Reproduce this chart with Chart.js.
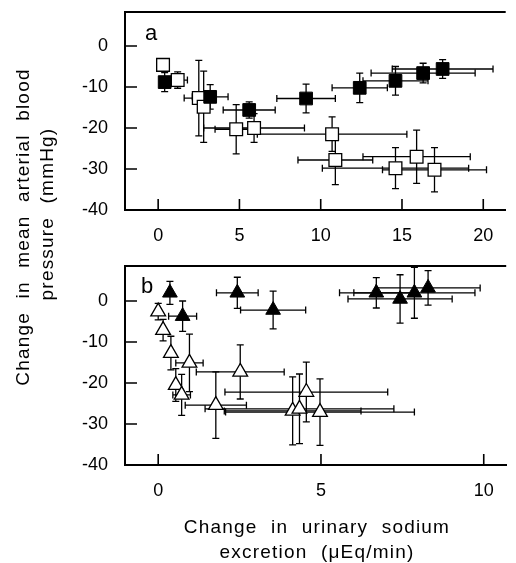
<!DOCTYPE html>
<html>
<head>
    <title>Blood pressure vs sodium excretion</title>
    <style>
        body {
            margin: 0;
            background-color: white;
            font-family: "Liberation Sans", Arial, sans-serif;
            color: #000;
        }
        .wrap {
            position: relative;
            width: 516px;
            height: 563px;
            overflow: hidden;
        }
        canvas {
            position: absolute;
            left: 0;
        }
        .rot {
            position: absolute;
            white-space: nowrap;
            font-size: 19px;
            letter-spacing: 1.2px;
            word-spacing: 7px;
            transform: translate(-50%, -50%) rotate(-90deg);
        }
        .xtitle {
            position: absolute;
            left: 317px;
            top: 539px;
            transform: translate(-50%, -50%);
            white-space: nowrap;
            text-align: center;
            font-size: 19px;
            line-height: 25px;
            letter-spacing: 1.2px;
            word-spacing: 7px;
        }
        .panel {
            position: absolute;
            font-size: 22px;
            line-height: 22px;
        }
    </style>
</head>
<body>
    <div class="wrap">
        <canvas id="chartA" width="516" height="250" style="top:0"></canvas>
        <canvas id="chartB" width="516" height="313" style="top:250px"></canvas>
        <div class="rot" style="left:23px; top:227px">Change in mean arterial blood</div>
        <div class="rot" style="left:47px; top:214px">pressure (mmHg)</div>
        <div class="xtitle">Change in urinary sodium<br>excretion (&mu;Eq/min)</div>
        <div class="panel" style="left:145px; top:22px">a</div>
        <div class="panel" style="left:141px; top:275px">b</div>
    </div>

    <script src="https://cdn.jsdelivr.net/npm/chart.js"></script>
    <script>
    // panel a: filled squares
    const aFilledX = [0.4, 3.2, 5.6, 9.1, 12.4, 14.6, 16.3, 17.5];
    const aFilledY = [-8.8, -12.4, -15.6, -12.8, -10.2, -8.5, -6.6, -5.6];
    const aFilledXErr = [0, 1.1, 1.6, 1.8, 1.7, 2.0, 3.2, 3.1];
    const aFilledYErr = [2.3, 3.0, 2.0, 3.5, 3.6, 3.5, 2.4, 2.3];

    // panel a: open squares
    const aOpenX = [0.3, 1.2, 2.5, 2.8, 4.8, 5.9, 10.7, 10.9, 14.6, 15.9, 17.0];
    const aOpenY = [-4.6, -8.3, -12.7, -14.8, -20.3, -20.0, -21.5, -27.8, -29.8, -27.0, -30.2];
    const aOpenXErr = [0, 0.6, 0.9, 0, 1.3, 3.1, 4.6, 2.3, 4.5, 3.3, 3.2];
    const aOpenYErr = [1.5, 2.0, 9.2, 8.7, 6.0, 3.5, 4.2, 6.0, 5.0, 6.5, 5.4];

    // panel b: filled triangles
    const bFilledX = [0.36, 0.75, 2.43, 3.53, 6.7, 7.43, 7.87, 8.29];
    const bFilledY = [2.0, -3.7, 2.0, -2.2, 2.0, 0.5, 2.0, 3.2];
    const bFilledXErr = [0, 0.43, 0.64, 1.0, 1.13, 1.6, 1.86, 1.6];
    const bFilledYErr = [2.8, 3.7, 3.8, 4.6, 3.7, 5.9, 6.2, 4.2];

    // panel b: open triangles
    const bOpenX = [0.0, 0.15, 0.39, 0.54, 0.72, 0.96, 1.77, 2.52, 4.13, 4.34, 4.55, 4.97];
    const bOpenY = [-2.6, -7.1, -12.7, -20.5, -22.9, -15.1, -25.4, -17.3, -26.8, -26.3, -22.2, -27.1];
    const bOpenXErr = [0, 0, 0, 0, 0.27, 0.42, 0.94, 1.35, 2.1, 2.9, 2.5, 2.9];
    const bOpenYErr = [2.0, 2.6, 4.1, 4.0, 5.0, 7.0, 8.1, 6.6, 8.3, 8.5, 7.3, 8.1];

    const aXTicks = [0, 5, 10, 15, 20];
    const bXTicks = [0, 5, 10];
    const yTicks = [0, -10, -20, -30, -40];

    Chart.defaults.font.family = "'Liberation Sans', Arial, sans-serif";
    Chart.defaults.font.size = 18;
    Chart.defaults.color = '#000';

    function points(xs, ys) {
        return xs.map((x, i) => ({ x: x, y: ys[i] }));
    }

    // error bars under the markers, inward ticks and the top frame line
    const errorBars = {
        id: 'errorBars',
        beforeDatasetsDraw(chart) {
            const ctx = chart.ctx;
            const xs = chart.scales.x, ys = chart.scales.y;
            const cap = 3.5;
            ctx.save();
            ctx.strokeStyle = '#000';
            ctx.lineWidth = 1.3;
            chart.data.datasets.forEach(ds => {
                ds.data.forEach((p, i) => {
                    const px = xs.getPixelForValue(p.x);
                    const py = ys.getPixelForValue(p.y);
                    ctx.beginPath();
                    const xe = ds.xErr[i];
                    if (xe) {
                        const l = xs.getPixelForValue(p.x - xe);
                        const r = xs.getPixelForValue(p.x + xe);
                        ctx.moveTo(l, py); ctx.lineTo(r, py);
                        ctx.moveTo(l, py - cap); ctx.lineTo(l, py + cap);
                        ctx.moveTo(r, py - cap); ctx.lineTo(r, py + cap);
                    }
                    const ye = ds.yErr[i];
                    if (ye) {
                        const t = ys.getPixelForValue(p.y + ye);
                        const b = ys.getPixelForValue(p.y - ye);
                        ctx.moveTo(px, t); ctx.lineTo(px, b);
                        ctx.moveTo(px - cap, t); ctx.lineTo(px + cap, t);
                        ctx.moveTo(px - cap, b); ctx.lineTo(px + cap, b);
                    }
                    ctx.stroke();
                });
            });
            ctx.restore();
        },
        afterDraw(chart) {
            const ctx = chart.ctx;
            const area = chart.chartArea;
            const xs = chart.scales.x, ys = chart.scales.y;
            ctx.save();
            ctx.strokeStyle = '#000';
            ctx.lineWidth = 2;
            ctx.beginPath();
            ctx.moveTo(area.left - 1, area.top);
            ctx.lineTo(area.right, area.top);
            ctx.stroke();
            ctx.lineWidth = 1.6;
            ctx.beginPath();
            xs.ticks.forEach(t => {
                const px = xs.getPixelForValue(t.value);
                ctx.moveTo(px, area.bottom);
                ctx.lineTo(px, area.bottom - 11);
            });
            ys.ticks.forEach(t => {
                const py = ys.getPixelForValue(t.value);
                if (t.value <= -40) return;
                ctx.moveTo(area.left, py);
                ctx.lineTo(area.left + 12, py);
            });
            ctx.stroke();
            ctx.restore();
        }
    };

    function makeChart(id, sets, xMin, xMax, xTicks, yMax, padTop, xHeight) {
        return new Chart(document.getElementById(id), {
            type: 'scatter',
            data: { datasets: sets },
            options: {
                responsive: false,
                animation: false,
                layout: { padding: { top: padTop, right: 0, left: 0, bottom: 0 } },
                plugins: { legend: { display: false }, tooltip: { enabled: false } },
                scales: {
                    x: {
                        type: 'linear',
                        min: xMin,
                        max: xMax,
                        afterBuildTicks: s => { s.ticks = xTicks.map(v => ({ value: v })); },
                        afterFit: s => {
                            s.height = xHeight;
                            s.paddingLeft = 0;
                            s.paddingRight = 0;
                        },
                        grid: { display: false, drawTicks: false },
                        border: { display: true, color: '#000', width: 2 },
                        ticks: { padding: 15, maxRotation: 0 }
                    },
                    y: {
                        type: 'linear',
                        min: -40,
                        max: yMax,
                        afterBuildTicks: s => { s.ticks = yTicks.map(v => ({ value: v })); },
                        afterFit: s => {
                            s.width = 125;
                            s.paddingTop = 0;
                            s.paddingBottom = 0;
                        },
                        grid: { display: false, drawTicks: false },
                        border: { display: true, color: '#000', width: 2 },
                        ticks: { padding: 17 }
                    }
                }
            },
            plugins: [errorBars]
        });
    }

    makeChart('chartA', [
        {
            data: points(aFilledX, aFilledY), xErr: aFilledXErr, yErr: aFilledYErr,
            pointStyle: 'rect', pointRadius: 9, pointHoverRadius: 9,
            backgroundColor: '#000', borderColor: '#000', borderWidth: 1
        },
        {
            data: points(aOpenX, aOpenY), xErr: aOpenXErr, yErr: aOpenYErr,
            pointStyle: 'rect', pointRadius: 9, pointHoverRadius: 9,
            backgroundColor: '#fff', borderColor: '#000', borderWidth: 1.3
        }
    ], -2.04, 21.38, aXTicks, 8.3, 12, 40);

    makeChart('chartB', [
        {
            data: points(bFilledX, bFilledY), xErr: bFilledXErr, yErr: bFilledYErr,
            pointStyle: 'triangle', pointRadius: 8.5, pointHoverRadius: 8.5,
            backgroundColor: '#000', borderColor: '#000', borderWidth: 1
        },
        {
            data: points(bOpenX, bOpenY), xErr: bOpenXErr, yErr: bOpenYErr,
            pointStyle: 'triangle', pointRadius: 8.5, pointHoverRadius: 8.5,
            backgroundColor: '#fff', borderColor: '#000', borderWidth: 1.3
        }
    ], -1.02, 10.69, bXTicks, 8.54, 16, 98);
    </script>
</body>
</html>
